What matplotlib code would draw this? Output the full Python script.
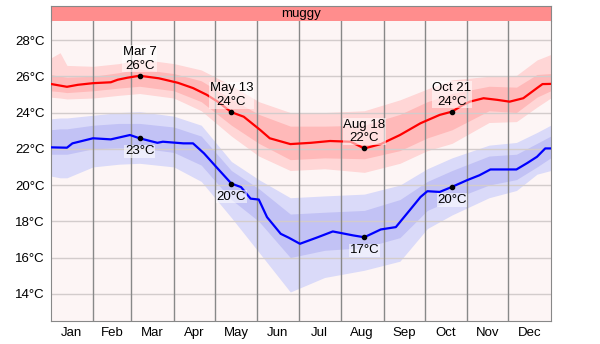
import matplotlib
matplotlib.use("Agg")
import matplotlib.pyplot as plt
import numpy as np

plt.rcParams['font.family'] = ['Liberation Sans', 'DejaVu Sans']

# Month boundaries (day of year) and labels
month_starts = [0, 31, 59, 90, 120, 151, 181, 212, 243, 273, 304, 334, 365]
month_labels = ['Jan', 'Feb', 'Mar', 'Apr', 'May', 'Jun',
                'Jul', 'Aug', 'Sep', 'Oct', 'Nov', 'Dec']
y_ticks = [14, 16, 18, 20, 22, 24, 26, 28]

# Average daily high temperature (°C)
high_days = [0, 12, 20, 31, 44, 49, 56, 65, 79, 93, 104, 114, 122, 132, 141, 153,
             160, 175, 190, 204, 219, 229, 241, 255, 270, 284, 293, 301, 306, 316,
             326, 335, 345, 355, 359, 365]
high_temp = [25.58, 25.42, 25.53, 25.62, 25.67, 25.81, 25.92, 26.03, 25.89, 25.64,
             25.35, 24.98, 24.60, 24.02, 23.77, 23.04, 22.58, 22.26, 22.33, 22.43,
             22.39, 22.02, 22.26, 22.76, 23.41, 23.87, 24.05, 24.42, 24.60, 24.79,
             24.70, 24.60, 24.79, 25.35, 25.57, 25.58]

# Average daily low temperature (°C)
low_days = [0, 12, 16, 31, 44, 58, 65, 78, 82, 97, 104, 112, 122, 132, 139, 146,
            152, 158, 168, 174, 182, 195, 206, 221, 229, 241, 252, 262, 270, 275,
            284, 293, 304, 313, 321, 340, 348, 355, 361, 365]
low_temp = [22.08, 22.06, 22.30, 22.58, 22.52, 22.76, 22.58, 22.33, 22.39, 22.30,
            22.30, 21.75, 20.91, 20.08, 19.89, 19.25, 19.20, 18.23, 17.31, 17.09,
            16.76, 17.12, 17.44, 17.22, 17.12, 17.55, 17.68, 18.60, 19.34, 19.66,
            19.62, 19.90, 20.27, 20.54, 20.86, 20.86, 21.22, 21.56, 22.02, 22.02]

# Percentile bands (10th/25th/75th/90th)
band_days = [0, 7, 12, 31, 50, 65, 90, 110, 132, 152, 175, 200, 229, 255, 275,
             293, 320, 340, 355, 365]
high_p90 = [27.0, 27.3, 26.6, 26.55, 26.7, 26.95, 26.7, 26.35, 25.5, 24.6, 24.0,
            24.0, 24.1, 24.7, 25.3, 25.8, 26.0, 26.05, 26.9, 27.2]
high_p75 = [26.1, 26.0, 25.95, 26.0, 26.2, 26.4, 26.15, 25.75, 24.75, 23.9, 23.25,
            23.25, 23.3, 23.9, 24.6, 25.05, 25.45, 25.4, 26.1, 26.15]
high_p25 = [25.2, 25.15, 25.1, 25.2, 25.35, 25.45, 25.2, 24.6, 23.3, 22.3, 21.4,
            21.5, 21.45, 21.9, 22.6, 23.05, 24.1, 24.0, 24.85, 25.2]
high_p10 = [24.85, 24.8, 24.75, 24.8, 24.95, 25.05, 24.8, 24.1, 22.7, 21.6, 20.8,
            20.9, 20.7, 21.2, 21.9, 22.3, 23.45, 23.5, 24.3, 24.8]
low_p90 = [23.65, 23.7, 23.7, 23.85, 24.0, 24.05, 23.8, 23.3, 21.3, 20.3, 19.3,
           19.4, 19.5, 20.0, 20.9, 21.5, 22.2, 22.35, 22.9, 23.3]
low_p75 = [23.05, 23.1, 23.1, 23.3, 23.4, 23.4, 23.2, 22.7, 20.8, 19.8, 18.4,
           18.5, 18.6, 19.2, 20.2, 20.8, 21.6, 21.7, 22.3, 22.7]
low_p25 = [21.7, 21.7, 21.7, 22.0, 22.05, 22.05, 21.8, 21.1, 19.2, 18.0, 16.0,
           16.4, 16.55, 17.1, 18.6, 19.2, 20.0, 20.3, 21.0, 21.5]
low_p10 = [20.5, 20.4, 20.4, 21.0, 21.15, 21.2, 21.0, 20.2, 18.2, 16.3, 14.1,
           14.9, 15.3, 15.8, 17.6, 18.35, 19.3, 19.7, 20.6, 20.8]

# Annotated days: (label, day, high, low)
notes = [('Mar 7', 65, 26.03, 22.58),
         ('May 13', 132, 24.02, 20.08),
         ('Aug 18', 229, 22.02, 17.12),
         ('Oct 21', 293, 24.05, 19.90)]

W, H = 600, 344
fig = plt.figure(figsize=(W / 100, H / 100), dpi=100)
left, right = 50.5 / W, 550.7 / W
ax = fig.add_axes([left, 1 - 321 / H, right - left, (321 - 21) / H])
band = fig.add_axes([left, 1 - 21 / H, right - left, 15 / H])

ax.set_facecolor('#fdf5f5')
ax.fill_between(band_days, high_p10, high_p90, color='#ffd6d6', lw=0, zorder=1)
ax.fill_between(band_days, high_p25, high_p75, color='#ffb9b9', lw=0, zorder=1)
ax.fill_between(band_days, low_p10, low_p90, color='#dadaf9', lw=0, zorder=1)
ax.fill_between(band_days, low_p25, low_p75, color='#c2c2f5', lw=0, zorder=1)

for y in y_ticks:
    ax.axhline(y, color='#d3cccc', lw=1, zorder=2)
for d in month_starts[1:-1]:
    ax.axvline(d, color='#888888', lw=1, zorder=2)

ax.plot(high_days, high_temp, color='#ff0000', lw=1.6, zorder=3)
ax.plot(low_days, low_temp, color='#0000ff', lw=1.6, zorder=3)

box = dict(boxstyle='square,pad=0.05', fc='white', ec='none', alpha=0.55)
for label, d, hi, lo in notes:
    ax.plot([d, d], [hi, lo], 'o', color='black', ms=3, zorder=5)
    ax.annotate(f'{label}\n{hi:.0f}°C', (d, hi), xytext=(0, 4),
                textcoords='offset pixels', ha='center', va='bottom',
                fontsize=9.5, linespacing=1.2, bbox=box, zorder=6)
    ax.annotate(f'{lo:.0f}°C', (d, lo), xytext=(0, -7),
                textcoords='offset pixels', ha='center', va='top',
                fontsize=9.5, bbox=box, zorder=6)

ax.set_xlim(0, 365)
ax.set_ylim(12.5, 29.05)
ax.set_yticks(y_ticks)
ax.set_yticklabels([f'{t}°C' for t in y_ticks], fontsize=9.5)
centers = [(a + b) / 2 for a, b in zip(month_starts[:-1], month_starts[1:])]
ax.set_xticks(centers)
ax.set_xticklabels(month_labels, fontsize=9.5)
ax.tick_params(length=0, pad=4)
for s in ax.spines.values():
    s.set_color('#888888')
ax.spines['top'].set_visible(False)

band.set_facecolor('#ff8d8d')
band.set_xticks([])
band.set_yticks([])
for s in band.spines.values():
    s.set_color('#888888')
band.spines['bottom'].set_visible(False)
band.text(0.5, 0.45, 'muggy', ha='center', va='center', fontsize=9.5,
          transform=band.transAxes)

fig.savefig('out.png', dpi=100)
